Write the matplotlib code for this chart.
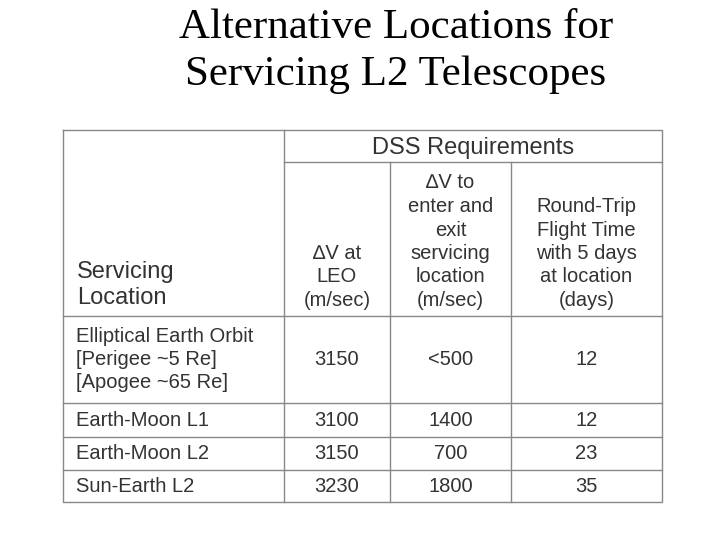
import matplotlib
matplotlib.use("Agg")
import matplotlib.pyplot as plt

# table content
locations = ["Elliptical Earth Orbit\n[Perigee ~5 Re]\n[Apogee ~65 Re]",
             "Earth-Moon L1", "Earth-Moon L2", "Sun-Earth L2"]
dv_leo = ["3150", "3100", "3150", "3230"]
dv_enter = ["<500", "1400", "700", "1800"]
trip_days = ["12", "12", "23", "35"]
headers = ["\u2206V at\nLEO\n(m/sec)", "\u2206V to\nenter and\nexit\nservicing\nlocation\n(m/sec)",
           "Round-Trip\nFlight Time\nwith 5 days\nat location\n(days)"]

fig = plt.figure(figsize=(7.2, 5.4), dpi=100)
ax = fig.add_axes([0, 0, 1, 1])
ax.set_xlim(0, 720)
ax.set_ylim(540, 0)
ax.axis("off")

fig.text(0.55, 0.985, "Alternative Locations for\nServicing L2 Telescopes", ha="center", va="top",
         fontsize=31, family="Liberation Serif", linespacing=1.3)

# grid
x0, x1 = 63, 662
cols = [x0, 284, 390, 511, x1]
row_y = [316, 403, 437, 470, 502]
lc = "#888888"
ax.plot([x0, x1, x1, x0, x0], [130, 130, 502, 502, 130], color=lc, lw=1)
ax.plot([284, x1], [162, 162], color=lc, lw=1)
for x in cols[1:4]:
    ax.plot([x, x], [130 if x == 284 else 162, 502], color=lc, lw=1)
for y in row_y[:-1]:
    ax.plot([x0, x1], [y, y], color=lc, lw=1)

tc = "#333333"
ax.text(473, 148, "DSS Requirements", ha="center", va="center", fontsize=17, color=tc, family="Liberation Sans")
ax.text(77, 285, "Servicing\nLocation", ha="left", va="center", fontsize=17, color=tc,
        family="Liberation Sans", linespacing=1.25)
for i, h in enumerate(headers):
    ax.text((cols[i + 1] + cols[i + 2]) / 2, 310, h, ha="center", va="bottom", fontsize=14.5,
            color=tc, family="Liberation Sans", linespacing=1.3)

for r in range(4):
    yc = (row_y[r] + row_y[r + 1]) / 2
    ax.text(76, yc, locations[r], ha="left", va="center", fontsize=14.5, color=tc,
            family="Liberation Sans", linespacing=1.3)
    for c, vals in enumerate([dv_leo, dv_enter, trip_days]):
        ax.text((cols[c + 1] + cols[c + 2]) / 2, yc, vals[r], ha="center", va="center",
                fontsize=14.5, color=tc, family="Liberation Sans")

fig.savefig("out.png", dpi=100)
